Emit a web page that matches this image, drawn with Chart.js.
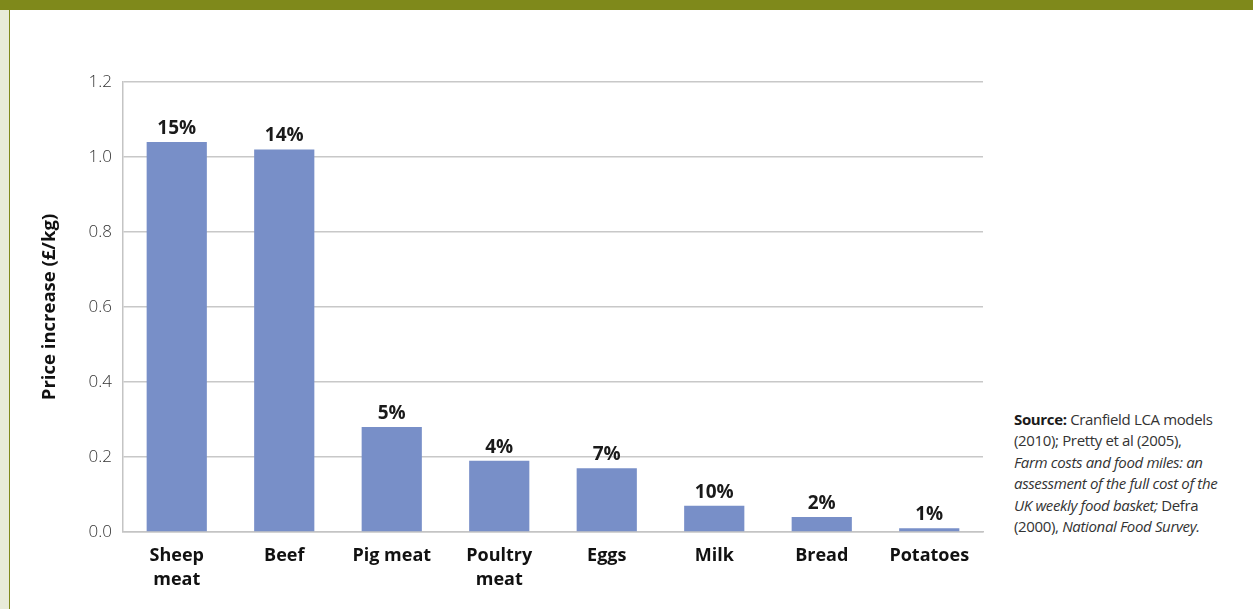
<!DOCTYPE html>
<html lang="en">
<head>
    <meta charset="UTF-8">
    <title>Price increase by food type</title>
    <style>
        body {
            margin: 0;
            width: 1253px;
            height: 609px;
            background: #ffffff;
            position: relative;
            overflow: hidden;
            font-family: "Open Sans", Arial, sans-serif;
        }
        .topband {
            position: absolute;
            left: 0; top: 0;
            width: 1253px; height: 10px;
            background: #7f891b;
        }
        .leftstrip {
            position: absolute;
            left: 0; top: 10px;
            width: 9px; height: 599px;
            background: #e8ebd8;
            border-right: 1px solid #7f891b;
        }
        #wrap {
            position: absolute;
            left: 0; top: 0;
            width: 1000px; height: 609px;
        }
        .source {
            position: absolute;
            left: 1014px; top: 409px;
            width: 240px;
            font-size: 15px;
            line-height: 21.4px;
            color: #333333;
            letter-spacing: -0.35px;
            white-space: nowrap;
        }
        .source b { color: #1a1a1a; }
    </style>
</head>
<body>
    <div class="topband"></div>
    <div class="leftstrip"></div>
    <div id="wrap"><canvas id="chart"></canvas></div>
    <div class="source">
        <b>Source:</b> Cranfield LCA models<br>
        (2010); Pretty et al (2005),<br>
        <i>Farm costs and food miles: an</i><br>
        <i>assessment of the full cost of the</i><br>
        <i>UK weekly food basket;</i> Defra<br>
        (2000), <i>National Food Survey.</i>
    </div>
    <script src="https://cdn.jsdelivr.net/npm/chart.js"></script>
    <script>
        const categories = [['Sheep', 'meat'], 'Beef', 'Pig meat', ['Poultry', 'meat'], 'Eggs', 'Milk', 'Bread', 'Potatoes'];
        const priceIncrease = [1.04, 1.02, 0.28, 0.19, 0.17, 0.07, 0.04, 0.01];
        const percentLabels = ['15%', '14%', '5%', '4%', '7%', '10%', '2%', '1%'];
        const yTicks = [0, 0.2, 0.4, 0.6, 0.8, 1.0, 1.2];

        // draws the % labels above each bar
        const barLabels = {
            id: 'barLabels',
            afterDatasetsDraw(chart) {
                const c = chart.ctx;
                const meta = chart.getDatasetMeta(0);
                c.save();
                c.font = 'bold 19px "Open Sans", Arial, sans-serif';
                c.fillStyle = '#1a1a1a';
                c.textAlign = 'center';
                c.textBaseline = 'bottom';
                meta.data.forEach((bar, i) => {
                    c.fillText(percentLabels[i], bar.x, bar.y - 4);
                });
                c.restore();
            }
        };

        const ctx = document.getElementById('chart').getContext('2d');
        new Chart(ctx, {
            type: 'bar',
            data: {
                labels: categories,
                datasets: [{
                    data: priceIncrease,
                    backgroundColor: '#788fc8',
                    borderWidth: 0,
                    categoryPercentage: 1,
                    barPercentage: 0.56
                }]
            },
            options: {
                responsive: true,
                maintainAspectRatio: false,
                animation: false,
                layout: { padding: { left: 38, top: 82, right: 17, bottom: 0 } },
                plugins: {
                    legend: { display: false },
                    tooltip: { enabled: false }
                },
                scales: {
                    x: {
                        grid: { display: false, drawTicks: false },
                        border: { color: '#c4c4c4', width: 1.5 },
                        ticks: {
                            color: '#111111',
                            padding: 11,
                            maxRotation: 0,
                            autoSkip: false,
                            font: { family: '"Open Sans", Arial, sans-serif', size: 18, weight: 'bold', lineHeight: 1.38 }
                        },
                        afterFit(scale) { scale.height = 77; }
                    },
                    y: {
                        min: 0,
                        max: 1.2,
                        afterBuildTicks(scale) { scale.ticks = yTicks.map(v => ({ value: v })); },
                        grid: { color: '#c8c8c8', lineWidth: 1.5, drawTicks: false },
                        border: { color: '#c4c4c4', width: 1.5 },
                        ticks: {
                            color: '#333333',
                            padding: 11,
                            font: { family: '"Open Sans", Arial, sans-serif', size: 17, weight: 300 },
                            callback: v => v.toFixed(1)
                        },
                        title: {
                            display: true,
                            text: 'Price increase (£/kg)',
                            color: '#111111',
                            padding: { top: 1, bottom: 0 },
                            font: { family: '"Open Sans", Arial, sans-serif', size: 18.5, weight: 'bold' }
                        },
                        afterFit(scale) { scale.width = 123 - 38; }
                    }
                }
            },
            plugins: [barLabels]
        });
    </script>
</body>
</html>
